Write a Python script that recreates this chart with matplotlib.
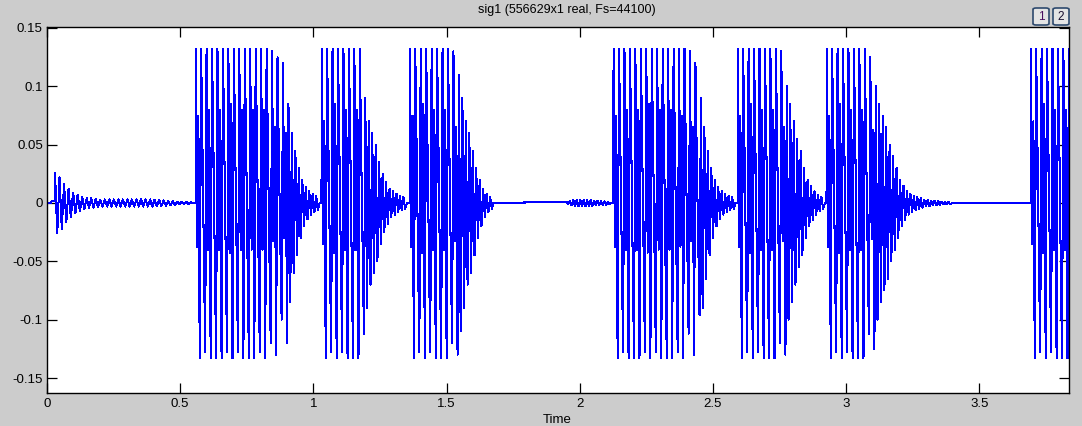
import numpy as np
import matplotlib
matplotlib.use('Agg')
import matplotlib.pyplot as plt
from matplotlib.patches import FancyBboxPatch
from matplotlib.ticker import FuncFormatter

# --- values (time in s, amplitude) ---
title_text = "sig1 (556629x1 real, Fs=44100)"
x_ticks = [0, 0.5, 1, 1.5, 2, 2.5, 3, 3.5]
y_ticks = [-0.15, -0.1, -0.05, 0, 0.05, 0.1, 0.15]
x_lim = [0, 3.837]
y_lim = [-0.1628, 0.1508]

# quiet lead-in and the first small click with its ringing
head_t = [0.0, 0.016, 0.017, 0.029]
head_y = [0.0, 0.0, 0.0015, 0.0015]
click_start = 0.03
click_amp = [0.026, 0.022, 0.016, 0.012, 0.009, 0.007, 0.005, 0.004, 0.004, 0.0035,
             0.003, 0.003, 0.003, 0.003, 0.003, 0.003, 0.003, 0.003, 0.003, 0.003,
             0.003, 0.003, 0.0028, 0.0025, 0.0022, 0.002, 0.0015, 0.0012, 0.001, 0.0008]

# small ripple in front of the fourth burst
pre4_start = 1.95
pre4_amp = [0.001, 0.002, 0.0025, 0.003, 0.003, 0.003, 0.0025, 0.0025, 0.002, 0.002,
            0.0015, 0.0015, 0.001]

# loud bursts: onset time, peak level per cycle, then decaying ring-out
burst_start = [0.558, 1.031, 1.362, 2.127, 2.593, 2.927, 3.693]
b1_amp = [0.15, 0.16, 0.16, 0.17, 0.16, 0.16, 0.17, 0.16, 0.16, 0.17, 0.16, 0.16, 0.16,
          0.15, 0.13, 0.125, 0.12]
b2_amp = [0.14, 0.16, 0.17, 0.16, 0.16, 0.17, 0.16, 0.14]
b3_amp = [0.15, 0.16, 0.17, 0.16, 0.16, 0.17, 0.16, 0.15, 0.13]
b4_amp = [0.15, 0.16, 0.16, 0.17, 0.16, 0.16, 0.17, 0.16, 0.16, 0.17, 0.16, 0.16, 0.15,
          0.14, 0.13, 0.12]
b5_amp = [0.15, 0.16, 0.17, 0.16, 0.16, 0.17, 0.16, 0.15, 0.13]
b6_amp = [0.15, 0.16, 0.17, 0.16, 0.16, 0.17, 0.16, 0.14, 0.125]
b7_amp = [0.14, 0.16, 0.17, 0.16, 0.16, 0.17, 0.16, 0.16]

b1_tail = [0.085, 0.06, 0.045, 0.03, 0.02, 0.014, 0.01, 0.008, 0.006]
b2_tail = [0.09, 0.07, 0.06, 0.05, 0.035, 0.025, 0.018, 0.012, 0.01, 0.008, 0.006, 0.005]
b3_tail = [0.11, 0.09, 0.07, 0.06, 0.045, 0.03, 0.02, 0.012, 0.008, 0.005]
b4_tail = [0.09, 0.065, 0.045, 0.03, 0.02, 0.014, 0.01, 0.008, 0.006, 0.005]
b5_tail = [0.1, 0.085, 0.07, 0.055, 0.045, 0.03, 0.02, 0.015, 0.01, 0.007, 0.005]
b6_tail = [0.1, 0.085, 0.075, 0.065, 0.05, 0.04, 0.03, 0.02, 0.015, 0.01, 0.008, 0.006,
           0.005, 0.004, 0.003, 0.003, 0.002, 0.002, 0.0015, 0.001, 0.001, 0.001]
b7_tail = []

# one cycle of the loud waveform (relative to the peak level), two variants
shape_a = [1.0, -0.25, 0.5, -1.0]
shape_b = [1.0, 0.3, -0.27, -0.8]
ring_shape = [1.0, -1.0]

loud_period = 0.0205
ring_period = 0.013
click_period = 0.017
clip_hi, clip_lo = 0.132, -0.133


def add_cycles(ts, ys, t0, amps, shapes, period):
    for k, a in enumerate(amps):
        shape = shapes[k % len(shapes)]
        n = len(shape)
        for j, s in enumerate(shape):
            ts.append(t0 + (k + j / n) * period)
            ys.append(a * s)
    return t0 + len(amps) * period


ts = list(head_t)
ys = list(head_y)
t_end = add_cycles(ts, ys, click_start, click_amp, [ring_shape], click_period)
ts.append(t_end)
ys.append(0.0005)

amps = [b1_amp, b2_amp, b3_amp, b4_amp, b5_amp, b6_amp, b7_amp]
tails = [b1_tail, b2_tail, b3_tail, b4_tail, b5_tail, b6_tail, b7_tail]
for i in range(len(burst_start)):
    if i == 3:
        t_end = add_cycles(ts, ys, pre4_start, pre4_amp, [ring_shape], ring_period)
        ts.append(t_end)
        ys.append(0.0)
    # stay flat right up to the onset so the jump is vertical
    ts.append(burst_start[i] - 0.0004)
    ys.append(0.0)
    t_end = add_cycles(ts, ys, burst_start[i], amps[i], [shape_a, shape_b], loud_period)
    t_end = add_cycles(ts, ys, t_end, tails[i], [ring_shape], ring_period)
    ts.append(t_end)
    ys.append(0.0)

ts = np.array(ts)
ys = np.clip(np.array(ys), clip_lo, clip_hi)

# --- figure ---
W, H = 1082, 426
fig = plt.figure(figsize=(W / 100, H / 100), dpi=100, facecolor='#CCCCCC')
ax = fig.add_axes([47 / W, 1 - 393 / H, (1069 - 47) / W, (393 - 27) / H])
ax.set_facecolor('white')

ax.plot(ts, ys, color='#0000FF', lw=0.75, antialiased=False)

ax.set_xlim(x_lim)
ax.set_ylim(y_lim)
ax.set_xticks(x_ticks)
ax.set_yticks(y_ticks)
fmt = FuncFormatter(lambda v, p: '%g' % v)
ax.xaxis.set_major_formatter(fmt)
ax.yaxis.set_major_formatter(fmt)
ax.tick_params(direction='in', length=7.2, width=0.9, top=True, right=True,
               labelsize=9.5, colors='black', pad=3.5)
ax.tick_params(axis='y', pad=3)
for lab in ax.get_xticklabels() + ax.get_yticklabels():
    lab.set_family('Liberation Sans')
for sp in ax.spines.values():
    sp.set_linewidth(1.0)
    sp.set_color('black')

fig.text(567 / W, 1 - 10 / H, title_text, ha='center', va='center',
         fontsize=9, family='Liberation Sans', color='black')
fig.text(557 / W, 1 - 420 / H, 'Time', ha='center', va='center',
         fontsize=9.5, family='Liberation Sans', color='black')

# the two little page buttons at the top right
for bx, label, tc in [(1033, '1', '#4A1060'), (1053, '2', '#1A1030')]:
    box = FancyBboxPatch((bx / W, 1 - 25 / H), 16 / W, 17 / H,
                         boxstyle='round,pad=0,rounding_size=0.003',
                         transform=fig.transFigure, facecolor='#E4E4E4',
                         edgecolor='#2E4A6E', lw=1.2)
    fig.patches.append(box)
    fig.text((bx + 8) / W, 1 - 16.5 / H, label, ha='center', va='center',
             fontsize=8.5, family='Liberation Sans', color=tc)

fig.savefig('out.png', dpi=100, facecolor=fig.get_facecolor())
